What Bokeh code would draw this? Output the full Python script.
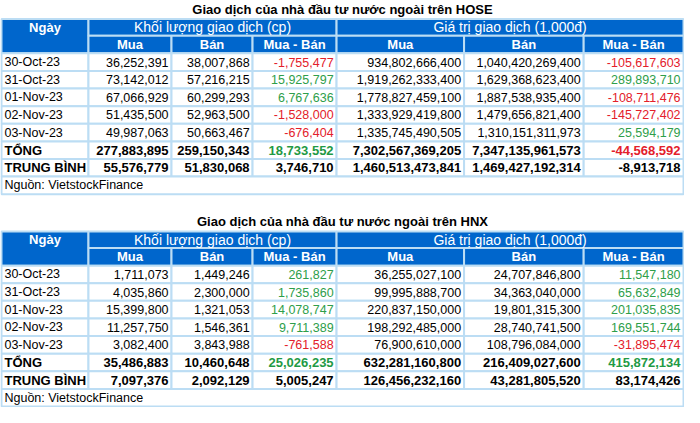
from bokeh.plotting import figure
from bokeh.models import Range1d, ColumnDataSource
from bokeh.core.properties import value
from bokeh.embed import file_html
from bokeh.resources import INLINE

# ---------------- data ----------------
dates = ["30-Oct-23", "31-Oct-23", "01-Nov-23", "02-Nov-23", "03-Nov-23"]
col_groups = ["Khối lượng giao dịch (cp)", "Giá trị giao dịch (1,000đ)"]
sub_cols = ["Mua", "Bán", "Mua - Bán"]
first_col = "Ngày"
total_label = "TỔNG"
avg_label = "TRUNG BÌNH"
source_label = "Nguồn: VietstockFinance"

hose_title = "Giao dịch của nhà đầu tư nước ngoài trên HOSE"
hose_vol_buy = [36252391, 73142012, 67066929, 51435500, 49987063]
hose_vol_sell = [38007868, 57216215, 60299293, 52963500, 50663467]
hose_vol_net = [-1755477, 15925797, 6767636, -1528000, -676404]
hose_val_buy = [934802666400, 1919262333400, 1778827459100, 1333929419800, 1335745490505]
hose_val_sell = [1040420269400, 1629368623400, 1887538935400, 1479656821400, 1310151311973]
hose_val_net = [-105617603, 289893710, -108711476, -145727402, 25594179]
hose_total = [277883895, 259150343, 18733552, 7302567369205, 7347135961573, -44568592]
hose_avg = [55576779, 51830068, 3746710, 1460513473841, 1469427192314, -8913718]

hnx_title = "Giao dịch của nhà đầu tư nước ngoài trên HNX"
hnx_vol_buy = [1711073, 4035860, 15399800, 11257750, 3082400]
hnx_vol_sell = [1449246, 2300000, 1321053, 1546361, 3843988]
hnx_vol_net = [261827, 1735860, 14078747, 9711389, -761588]
hnx_val_buy = [36255027100, 99995888700, 220837150000, 198292485000, 76900610000]
hnx_val_sell = [24707846800, 34363040000, 19801315300, 28740741500, 108796084000]
hnx_val_net = [11547180, 65632849, 201035835, 169551744, -31895474]
hnx_total = [35486883, 10460648, 25026235, 632281160800, 216409027600, 415872134]
hnx_avg = [7097376, 2092129, 5005247, 126456232160, 43281805520, 83174426]

# ---------------- layout / style ----------------
COL_EDGES = [4, 92, 176, 258, 343, 472, 593, 694]
TABLE_TOPS = [20, 237]
H1, H2, ROW = 17, 18, 18
PAD = 3
FONT = value("Liberation Sans")
FS_DATA = "12.5px"
FS_GROUP = "14px"
FS_BOLD = "13px"
FS_BOLDNUM = "13px"
FS_TITLE = "13px"
BLUE = "#0066CC"
BORDER = "#BCDDF4"
RED = "#E3202A"
GREEN = "#2E9E4A"
GREEN_B = "#1F9A45"
BLACK = "#000000"

p = figure(width=684, height=407, x_range=Range1d(3, 695), y_range=Range1d(417, 1),
           output_backend="svg", toolbar_location=None, min_border=0,
           x_axis_location=None, y_axis_location=None)
p.grid.visible = False
p.outline_line_color = None
p.background_fill_color = "white"
p.border_fill_color = "white"

cells = dict(left=[], right=[], top=[], bottom=[], fill=[])
texts = {}


def add_cell(l, r, t, b, fill):
    cells["left"].append(l)
    cells["right"].append(r)
    cells["top"].append(t)
    cells["bottom"].append(b)
    cells["fill"].append(fill)


def add_text(x, y, s, color, align, bold, size):
    key = (align, bold, size)
    d = texts.setdefault(key, dict(x=[], y=[], text=[], color=[]))
    d["x"].append(x)
    d["y"].append(y)
    d["text"].append(s)
    d["color"].append(color)


def draw_table(top, title, vb, vs, vn, ab, as_, an, tot, avg):
    E = COL_EDGES
    add_text((E[0] + E[-1]) / 2, top - 10, title, BLACK, "center", True, FS_TITLE)
    # header
    add_cell(E[0], E[1], top, top + H1 + H2, BLUE)
    add_text((E[0] + E[1]) / 2, top + H1 / 2, first_col, "white", "center", True, FS_BOLD)
    for g in range(2):
        l, r = E[1 + 3 * g], E[4 + 3 * g]
        add_cell(l, r, top, top + H1, BLUE)
        add_text((l + r) / 2, top + H1 / 2, col_groups[g], "white", "center", False, FS_GROUP)
        for k in range(3):
            cl, cr = E[1 + 3 * g + k], E[2 + 3 * g + k]
            add_cell(cl, cr, top + H1, top + H1 + H2, BLUE)
            add_text((cl + cr) / 2, top + H1 + H2 / 2, sub_cols[k], "white", "center", True, FS_BOLD)
    y0 = top + H1 + H2
    rows = []
    for i, d in enumerate(dates):
        rows.append((d, [vb[i], vs[i], vn[i], ab[i], as_[i], an[i]], False, True))
    rows.append((total_label, tot, True, True))
    rows.append((avg_label, avg, True, False))
    for ri, (lab, vals, bold, colored) in enumerate(rows):
        t = y0 + ri * ROW
        b = t + ROW
        yc = (t + b) / 2
        add_cell(E[0], E[1], t, b, "white")
        add_text(E[0] + PAD, yc, lab, BLACK, "left", bold, FS_BOLD if bold else FS_DATA)
        for k, v in enumerate(vals):
            add_cell(E[1 + k], E[2 + k], t, b, "white")
            if colored and k in (2, 5):
                col = RED if v < 0 else (GREEN_B if bold else GREEN)
            else:
                col = BLACK
            add_text(E[2 + k] - PAD, yc, f"{v:,}", col, "right", bold,
                     FS_BOLDNUM if bold else FS_DATA)
    t = y0 + len(rows) * ROW
    add_cell(E[0], E[-1], t, t + ROW, "white")
    add_text(E[0] + PAD, t + ROW / 2, source_label, BLACK, "left", False, FS_DATA)


draw_table(TABLE_TOPS[0], hose_title, hose_vol_buy, hose_vol_sell, hose_vol_net,
           hose_val_buy, hose_val_sell, hose_val_net, hose_total, hose_avg)
draw_table(TABLE_TOPS[1], hnx_title, hnx_vol_buy, hnx_vol_sell, hnx_vol_net,
           hnx_val_buy, hnx_val_sell, hnx_val_net, hnx_total, hnx_avg)

p.quad(left="left", right="right", top="top", bottom="bottom", fill_color="fill",
       line_color=BORDER, line_width=2, source=ColumnDataSource(cells))

for (align, bold, size), d in texts.items():
    p.text(x="x", y="y", text="text", text_color="color", source=ColumnDataSource(d),
           text_align=align, text_baseline="middle", text_font=FONT,
           text_font_size=size, text_font_style="bold" if bold else "normal")

open("out.html", "w").write(file_html(p, INLINE))
